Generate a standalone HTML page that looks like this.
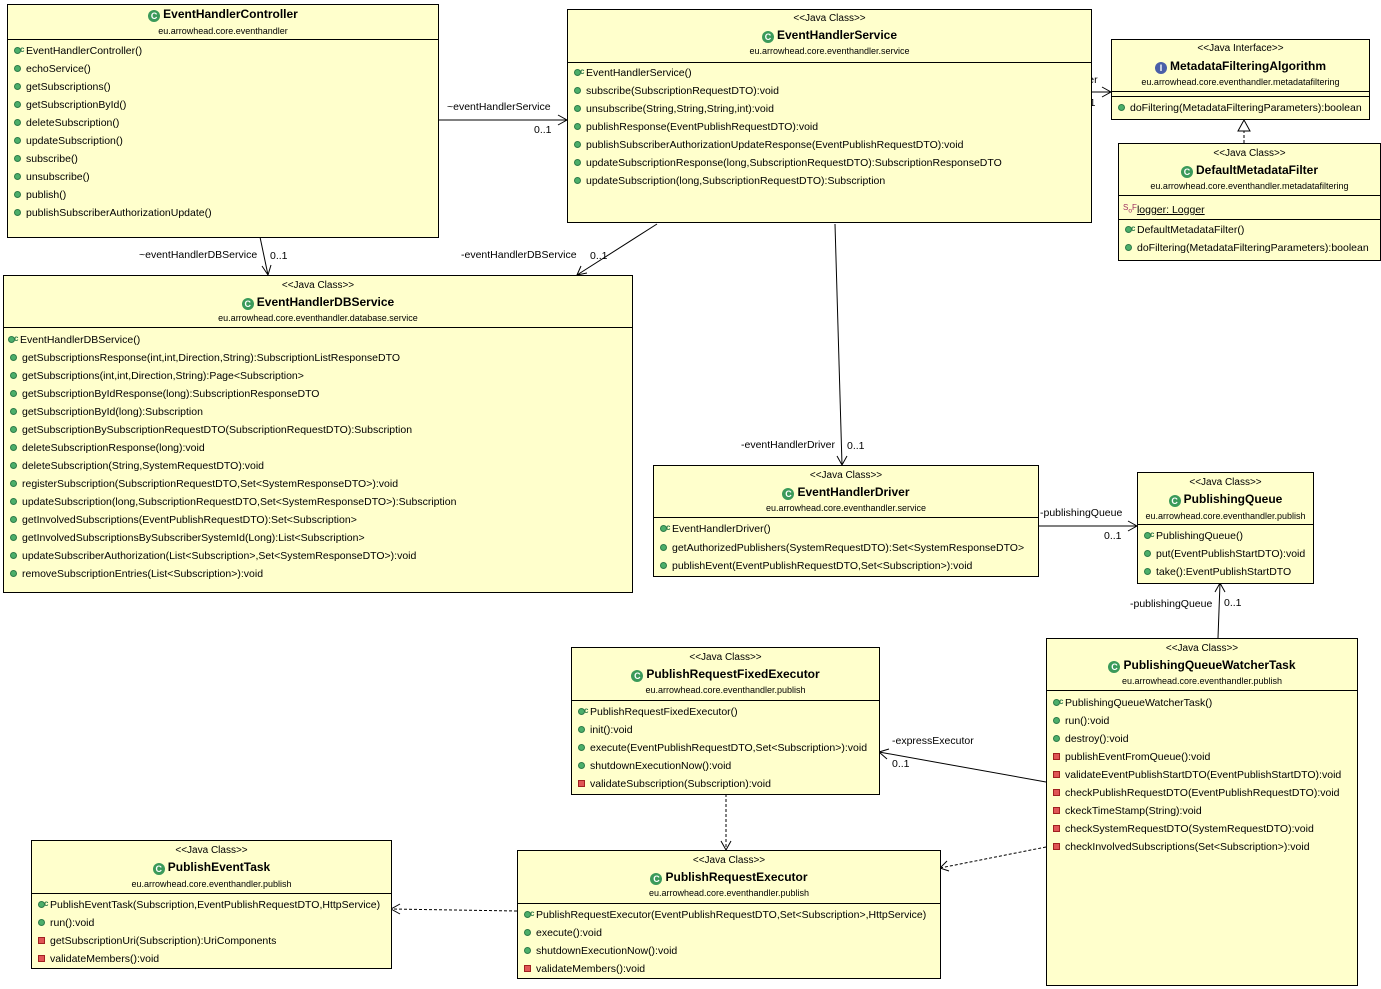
<!DOCTYPE html>
<html><head><meta charset="utf-8">
<style>
body{margin:0;width:1381px;height:989px;background:#fff;position:relative;overflow:hidden;font-family:"Liberation Sans",Arial,sans-serif;color:#000}
.b{position:absolute;background:#ffffcc;border:1px solid #000;box-sizing:border-box}
.t{position:absolute;left:0;right:0;text-align:center;white-space:nowrap}
.st{font-size:10px;line-height:12px}
.nm{font-size:12px;font-weight:bold;line-height:14px}
.pk{font-size:9px;line-height:11px}
.sep{position:absolute;left:0;right:0;height:0;border-top:1px solid #000}
.m{position:absolute;left:6px;white-space:nowrap;font-size:10.5px;line-height:18px}
.pu,.pr,.co{display:inline-block;width:7px;height:7px;margin-right:5px;vertical-align:-0px;position:relative}
.pu,.co{border-radius:50%;background:#4caf6a;border:1px solid #2d7a48;box-sizing:border-box}
.pr{background:#e05555;border:1px solid #a02020;box-sizing:border-box}
.co:after{content:"c";position:absolute;left:5px;top:-7px;font-size:8px;font-weight:bold;color:#2d7a48}
.ci{display:inline-block;width:12px;height:12px;border-radius:50%;background:#3b9a5a;color:#fff;font-size:9px;line-height:12px;text-align:center;margin-right:3px;vertical-align:-1px}
.ii{background:#4a5fa8}
.l{position:absolute;font-size:10.5px;white-space:nowrap;line-height:12px}
</style></head><body>

<svg width="1381" height="989" style="position:absolute;left:0;top:0" xmlns="http://www.w3.org/2000/svg">
<g stroke="#000" stroke-width="1" fill="none">
<line x1="438" y1="120" x2="567" y2="120"/><polyline points="558,115 567,120 558,125"/>
<line x1="260" y1="237" x2="268" y2="275"/><polyline points="262,266 268,275 271,265"/>
<line x1="657" y1="224" x2="577" y2="275"/><polyline points="581,266 577,275 587,273"/>
<line x1="835" y1="224" x2="842" y2="465"/><polyline points="837,456 842,465 847,456"/>
<line x1="1091" y1="92" x2="1111" y2="92"/><polyline points="1102,87 1111,92 1102,97"/>
<line x1="1244" y1="143" x2="1244" y2="131" stroke-dasharray="3,2"/><polygon points="1238,131 1250,131 1244,120" fill="#fff"/>
<line x1="1038" y1="526" x2="1137" y2="526"/><polyline points="1128,521 1137,526 1128,531"/>
<line x1="1218" y1="638" x2="1220" y2="583"/><polyline points="1215,592 1220,583 1225,592"/>
<line x1="1046" y1="782" x2="879" y2="752"/><polyline points="889,749 879,752 887,759"/>
<line x1="726" y1="794" x2="726" y2="850" stroke-dasharray="3,2"/><polyline points="721,841 726,850 731,841"/>
<line x1="1046" y1="847" x2="940" y2="868" stroke-dasharray="3,2"/><polyline points="947,861 940,868 949,871"/>
<line x1="517" y1="911" x2="391" y2="909" stroke-dasharray="3,2"/><polyline points="400,904 391,909 400,914"/>
</g></svg>

<div class="l" style="left:447px;top:101px">~eventHandlerService</div>
<div class="l" style="left:534px;top:124px">0..1</div>
<div class="l" style="left:139px;top:249px">~eventHandlerDBService</div>
<div class="l" style="left:270px;top:250px">0..1</div>
<div class="l" style="left:461px;top:249px">-eventHandlerDBService</div>
<div class="l" style="left:590px;top:250px">0..1</div>
<div class="l" style="left:741px;top:439px">-eventHandlerDriver</div>
<div class="l" style="left:847px;top:440px">0..1</div>
<div class="l" style="left:1027px;top:74px">-metadataFilter</div>
<div class="l" style="left:1078px;top:97px">0..1</div>
<div class="l" style="left:1040px;top:507px">-publishingQueue</div>
<div class="l" style="left:1104px;top:530px">0..1</div>
<div class="l" style="left:1130px;top:598px">-publishingQueue</div>
<div class="l" style="left:1224px;top:597px">0..1</div>
<div class="l" style="left:892px;top:735px">-expressExecutor</div>
<div class="l" style="left:892px;top:758px">0..1</div>

<!-- EventHandlerController -->
<div class="b" style="left:7px;top:4px;width:432px;height:234px">
<div class="t nm" style="top:2px"><span class="ci">C</span>EventHandlerController</div>
<div class="t pk" style="top:21px">eu.arrowhead.core.eventhandler</div>
<div class="sep" style="top:34px"></div>
<div class="m" style="top:37px"><span class="co"></span>EventHandlerController()</div>
<div class="m" style="top:55px"><span class="pu"></span>echoService()</div>
<div class="m" style="top:73px"><span class="pu"></span>getSubscriptions()</div>
<div class="m" style="top:91px"><span class="pu"></span>getSubscriptionById()</div>
<div class="m" style="top:109px"><span class="pu"></span>deleteSubscription()</div>
<div class="m" style="top:127px"><span class="pu"></span>updateSubscription()</div>
<div class="m" style="top:145px"><span class="pu"></span>subscribe()</div>
<div class="m" style="top:163px"><span class="pu"></span>unsubscribe()</div>
<div class="m" style="top:181px"><span class="pu"></span>publish()</div>
<div class="m" style="top:199px"><span class="pu"></span>publishSubscriberAuthorizationUpdate()</div>
</div>

<!-- EventHandlerService -->
<div class="b" style="left:567px;top:9px;width:525px;height:214px">
<div class="t st" style="top:3px">&lt;&lt;Java Class&gt;&gt;</div>
<div class="t nm" style="top:18px"><span class="ci">C</span>EventHandlerService</div>
<div class="t pk" style="top:36px">eu.arrowhead.core.eventhandler.service</div>
<div class="sep" style="top:52px"></div>
<div class="m" style="top:54px"><span class="co"></span>EventHandlerService()</div>
<div class="m" style="top:72px"><span class="pu"></span>subscribe(SubscriptionRequestDTO):void</div>
<div class="m" style="top:90px"><span class="pu"></span>unsubscribe(String,String,String,int):void</div>
<div class="m" style="top:108px"><span class="pu"></span>publishResponse(EventPublishRequestDTO):void</div>
<div class="m" style="top:126px"><span class="pu"></span>publishSubscriberAuthorizationUpdateResponse(EventPublishRequestDTO):void</div>
<div class="m" style="top:144px"><span class="pu"></span>updateSubscriptionResponse(long,SubscriptionRequestDTO):SubscriptionResponseDTO</div>
<div class="m" style="top:162px"><span class="pu"></span>updateSubscription(long,SubscriptionRequestDTO):Subscription</div>
</div>

<!-- MetadataFilteringAlgorithm -->
<div class="b" style="left:1111px;top:39px;width:259px;height:81px">
<div class="t st" style="top:3px">&lt;&lt;Java Interface&gt;&gt;</div>
<div class="t nm" style="top:19px"><span class="ci ii">I</span>MetadataFilteringAlgorithm</div>
<div class="t pk" style="top:37px">eu.arrowhead.core.eventhandler.metadatafiltering</div>
<div class="sep" style="top:51px"></div>
<div class="sep" style="top:56px"></div>
<div class="m" style="top:59px"><span class="pu"></span>doFiltering(MetadataFilteringParameters):boolean</div>
</div>

<!-- DefaultMetadataFilter -->
<div class="b" style="left:1118px;top:143px;width:263px;height:118px">
<div class="t st" style="top:4px">&lt;&lt;Java Class&gt;&gt;</div>
<div class="t nm" style="top:19px"><span class="ci">C</span>DefaultMetadataFilter</div>
<div class="t pk" style="top:37px">eu.arrowhead.core.eventhandler.metadatafiltering</div>
<div class="sep" style="top:51px"></div>
<div class="m" style="top:55px;left:4px"><span style="font-size:8px;color:#a03060;vertical-align:3px">S<sub>o</sub>F</span><span style="text-decoration:underline">logger: Logger</span></div>
<div class="sep" style="top:75px"></div>
<div class="m" style="top:77px"><span class="co"></span>DefaultMetadataFilter()</div>
<div class="m" style="top:95px"><span class="pu"></span>doFiltering(MetadataFilteringParameters):boolean</div>
</div>

<!-- EventHandlerDBService -->
<div class="b" style="left:3px;top:275px;width:630px;height:318px">
<div class="t st" style="top:4px">&lt;&lt;Java Class&gt;&gt;</div>
<div class="t nm" style="top:19px"><span class="ci">C</span>EventHandlerDBService</div>
<div class="t pk" style="top:37px">eu.arrowhead.core.eventhandler.database.service</div>
<div class="sep" style="top:51px"></div>
<div class="m" style="top:55px;left:4px"><span class="co"></span>EventHandlerDBService()</div>
<div class="m" style="top:73px"><span class="pu"></span>getSubscriptionsResponse(int,int,Direction,String):SubscriptionListResponseDTO</div>
<div class="m" style="top:91px"><span class="pu"></span>getSubscriptions(int,int,Direction,String):Page&lt;Subscription&gt;</div>
<div class="m" style="top:109px"><span class="pu"></span>getSubscriptionByIdResponse(long):SubscriptionResponseDTO</div>
<div class="m" style="top:127px"><span class="pu"></span>getSubscriptionById(long):Subscription</div>
<div class="m" style="top:145px"><span class="pu"></span>getSubscriptionBySubscriptionRequestDTO(SubscriptionRequestDTO):Subscription</div>
<div class="m" style="top:163px"><span class="pu"></span>deleteSubscriptionResponse(long):void</div>
<div class="m" style="top:181px"><span class="pu"></span>deleteSubscription(String,SystemRequestDTO):void</div>
<div class="m" style="top:199px"><span class="pu"></span>registerSubscription(SubscriptionRequestDTO,Set&lt;SystemResponseDTO&gt;):void</div>
<div class="m" style="top:217px"><span class="pu"></span>updateSubscription(long,SubscriptionRequestDTO,Set&lt;SystemResponseDTO&gt;):Subscription</div>
<div class="m" style="top:235px"><span class="pu"></span>getInvolvedSubscriptions(EventPublishRequestDTO):Set&lt;Subscription&gt;</div>
<div class="m" style="top:253px"><span class="pu"></span>getInvolvedSubscriptionsBySubscriberSystemId(Long):List&lt;Subscription&gt;</div>
<div class="m" style="top:271px"><span class="pu"></span>updateSubscriberAuthorization(List&lt;Subscription&gt;,Set&lt;SystemResponseDTO&gt;):void</div>
<div class="m" style="top:289px"><span class="pu"></span>removeSubscriptionEntries(List&lt;Subscription&gt;):void</div>
</div>

<!-- EventHandlerDriver -->
<div class="b" style="left:653px;top:465px;width:386px;height:112px">
<div class="t st" style="top:4px">&lt;&lt;Java Class&gt;&gt;</div>
<div class="t nm" style="top:19px"><span class="ci">C</span>EventHandlerDriver</div>
<div class="t pk" style="top:37px">eu.arrowhead.core.eventhandler.service</div>
<div class="sep" style="top:51px"></div>
<div class="m" style="top:54px"><span class="co"></span>EventHandlerDriver()</div>
<div class="m" style="top:73px"><span class="pu"></span>getAuthorizedPublishers(SystemRequestDTO):Set&lt;SystemResponseDTO&gt;</div>
<div class="m" style="top:91px"><span class="pu"></span>publishEvent(EventPublishRequestDTO,Set&lt;Subscription&gt;):void</div>
</div>

<!-- PublishingQueue -->
<div class="b" style="left:1137px;top:472px;width:177px;height:112px">
<div class="t st" style="top:4px">&lt;&lt;Java Class&gt;&gt;</div>
<div class="t nm" style="top:19px"><span class="ci">C</span>PublishingQueue</div>
<div class="t pk" style="top:38px">eu.arrowhead.core.eventhandler.publish</div>
<div class="sep" style="top:51px"></div>
<div class="m" style="top:54px"><span class="co"></span>PublishingQueue()</div>
<div class="m" style="top:72px"><span class="pu"></span>put(EventPublishStartDTO):void</div>
<div class="m" style="top:90px"><span class="pu"></span>take():EventPublishStartDTO</div>
</div>

<!-- PublishingQueueWatcherTask -->
<div class="b" style="left:1046px;top:638px;width:312px;height:348px">
<div class="t st" style="top:4px">&lt;&lt;Java Class&gt;&gt;</div>
<div class="t nm" style="top:19px"><span class="ci">C</span>PublishingQueueWatcherTask</div>
<div class="t pk" style="top:37px">eu.arrowhead.core.eventhandler.publish</div>
<div class="sep" style="top:51px"></div>
<div class="m" style="top:55px"><span class="co"></span>PublishingQueueWatcherTask()</div>
<div class="m" style="top:73px"><span class="pu"></span>run():void</div>
<div class="m" style="top:91px"><span class="pu"></span>destroy():void</div>
<div class="m" style="top:109px"><span class="pr"></span>publishEventFromQueue():void</div>
<div class="m" style="top:127px"><span class="pr"></span>validateEventPublishStartDTO(EventPublishStartDTO):void</div>
<div class="m" style="top:145px"><span class="pr"></span>checkPublishRequestDTO(EventPublishRequestDTO):void</div>
<div class="m" style="top:163px"><span class="pr"></span>ckeckTimeStamp(String):void</div>
<div class="m" style="top:181px"><span class="pr"></span>checkSystemRequestDTO(SystemRequestDTO):void</div>
<div class="m" style="top:199px"><span class="pr"></span>checkInvolvedSubscriptions(Set&lt;Subscription&gt;):void</div>
</div>

<!-- PublishRequestFixedExecutor -->
<div class="b" style="left:571px;top:647px;width:309px;height:148px">
<div class="t st" style="top:4px">&lt;&lt;Java Class&gt;&gt;</div>
<div class="t nm" style="top:19px"><span class="ci">C</span>PublishRequestFixedExecutor</div>
<div class="t pk" style="top:37px">eu.arrowhead.core.eventhandler.publish</div>
<div class="sep" style="top:52px"></div>
<div class="m" style="top:55px"><span class="co"></span>PublishRequestFixedExecutor()</div>
<div class="m" style="top:73px"><span class="pu"></span>init():void</div>
<div class="m" style="top:91px"><span class="pu"></span>execute(EventPublishRequestDTO,Set&lt;Subscription&gt;):void</div>
<div class="m" style="top:109px"><span class="pu"></span>shutdownExecutionNow():void</div>
<div class="m" style="top:127px"><span class="pr"></span>validateSubscription(Subscription):void</div>
</div>

<!-- PublishEventTask -->
<div class="b" style="left:31px;top:840px;width:361px;height:129px">
<div class="t st" style="top:4px">&lt;&lt;Java Class&gt;&gt;</div>
<div class="t nm" style="top:19px"><span class="ci">C</span>PublishEventTask</div>
<div class="t pk" style="top:38px">eu.arrowhead.core.eventhandler.publish</div>
<div class="sep" style="top:52px"></div>
<div class="m" style="top:55px"><span class="co"></span>PublishEventTask(Subscription,EventPublishRequestDTO,HttpService)</div>
<div class="m" style="top:73px"><span class="pu"></span>run():void</div>
<div class="m" style="top:91px"><span class="pr"></span>getSubscriptionUri(Subscription):UriComponents</div>
<div class="m" style="top:109px"><span class="pr"></span>validateMembers():void</div>
</div>

<!-- PublishRequestExecutor -->
<div class="b" style="left:517px;top:850px;width:424px;height:129px">
<div class="t st" style="top:4px">&lt;&lt;Java Class&gt;&gt;</div>
<div class="t nm" style="top:19px"><span class="ci">C</span>PublishRequestExecutor</div>
<div class="t pk" style="top:37px">eu.arrowhead.core.eventhandler.publish</div>
<div class="sep" style="top:52px"></div>
<div class="m" style="top:55px"><span class="co"></span>PublishRequestExecutor(EventPublishRequestDTO,Set&lt;Subscription&gt;,HttpService)</div>
<div class="m" style="top:73px"><span class="pu"></span>execute():void</div>
<div class="m" style="top:91px"><span class="pu"></span>shutdownExecutionNow():void</div>
<div class="m" style="top:109px"><span class="pr"></span>validateMembers():void</div>
</div>

</body></html>
